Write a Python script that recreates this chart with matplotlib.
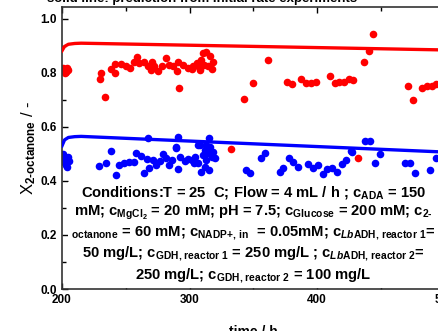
import matplotlib
matplotlib.use("Agg")
import matplotlib.pyplot as plt
import numpy as np

plt.rcParams.update({
    "font.family": "Liberation Sans",
    "font.weight": "bold",
    "mathtext.fontset": "custom",
    "mathtext.rm": "Liberation Sans:bold",
    "mathtext.bf": "Liberation Sans:bold",
    "mathtext.it": "Liberation Sans:bold:italic",
    "mathtext.default": "rm",
})

# measured conversion, reactor 1 (red) and reactor 2 (blue)
t_red = [200.5, 201.2, 202.0, 202.8, 203.5, 204.3, 205.0,
         229.7, 230.4, 233.9, 238.3, 241.7, 241.7, 246.2, 250.0, 253.5, 256.7,
         258.8, 260.6, 264.6, 267.2, 269.8, 270.3, 272.4, 275.0, 278.2, 281.6,
         284.3, 286.9, 290.3, 291.3, 291.6, 294.7, 298.7, 301.7, 303.0, 305.6,
         306.9, 308.2, 309.2, 310.5, 311.4, 312.6, 314.7, 316.3, 317.4, 318.3,
         332.8, 342.5, 349.9, 361.2, 376.1, 380.0, 387.4, 391.3, 395.0, 399.2,
         410.5, 413.8, 417.6, 421.3, 425.2, 428.6, 431.8, 436.5, 440.4, 443.9,
         471.4, 475.4, 482.4, 486.4, 490.3, 493.7]
x_red = [0.82, 0.81, 0.80, 0.815, 0.805, 0.82, 0.81,
         0.777, 0.80, 0.712, 0.814, 0.832, 0.80, 0.832, 0.826, 0.82, 0.842,
         0.86, 0.837, 0.839, 0.824, 0.811, 0.842, 0.824, 0.806, 0.824, 0.854,
         0.83, 0.824, 0.806, 0.842, 0.743, 0.83, 0.817, 0.814, 0.824, 0.837,
         0.826, 0.811, 0.846, 0.873, 0.83, 0.879, 0.824, 0.863, 0.814, 0.842,
         0.518, 0.705, 0.764, 0.848, 0.767, 0.759, 0.777, 0.763, 0.764, 0.767,
         0.789, 0.764, 0.767, 0.766, 0.777, 0.772, 0.484, 0.84, 0.88, 0.943,
         0.752, 0.70, 0.743, 0.75, 0.752, 0.758]

t_blue = [200.5, 201.2, 201.8, 202.5, 203.2, 204.0, 204.6, 205.3,
          229.1, 234.4, 238.3, 242.2, 244.9, 248.8, 252.8, 256.7, 258.0, 262.0,
          264.6, 266.7, 267.2, 268.5, 271.1, 273.8, 277.2, 279.0, 281.6, 284.3,
          286.1, 289.5, 289.5, 290.8, 291.3, 292.9, 296.1, 298.7, 301.7, 303.9,
          304.3, 306.5, 306.5, 308.2, 309.2, 310.8, 311.8, 311.8, 312.7, 312.7,
          314.7, 315.0, 315.2, 315.8, 317.4, 318.3, 320.0,
          344.6, 347.2, 355.7, 359.0, 370.9, 373.5, 378.2, 381.4, 385.3, 393.2,
          397.1, 401.0, 404.5, 408.1, 411.6, 415.5, 419.4, 422.8, 426.5, 427.3,
          437.8, 441.2, 445.7, 449.6, 469.3, 473.2, 477.2, 489.0, 493.7]
x_blue = [0.50, 0.49, 0.47, 0.48, 0.46, 0.45, 0.49, 0.475,
          0.456, 0.468, 0.512, 0.422, 0.459, 0.468, 0.472, 0.472, 0.503, 0.493,
          0.43, 0.48, 0.558, 0.447, 0.478, 0.459, 0.475, 0.50, 0.484, 0.459,
          0.478, 0.521, 0.524, 0.443, 0.562, 0.488, 0.475, 0.48, 0.478, 0.466,
          0.49, 0.465, 0.533, 0.533, 0.435, 0.496, 0.515, 0.453, 0.533, 0.478,
          0.503, 0.441, 0.558, 0.524, 0.49, 0.509, 0.484,
          0.44, 0.428, 0.484, 0.503, 0.435, 0.447, 0.484, 0.472, 0.453, 0.463,
          0.447, 0.459, 0.425, 0.443, 0.447, 0.435, 0.463, 0.478, 0.511, 0.509,
          0.548, 0.548, 0.468, 0.50, 0.468, 0.468, 0.428, 0.441, 0.484]

# prediction from initial rate experiments
t_model = [200, 202, 205, 210, 215, 500]
red_model = [0.882, 0.898, 0.906, 0.909, 0.91, 0.885]
blue_model = [0.53, 0.552, 0.561, 0.564, 0.565, 0.507]

conditions = (
    "Conditions:T = 25  C; Flow = 4 mL / h ; c$_{ADA}$ = 150\n"
    "mM; c$_{MgCl_2}$ = 20 mM; pH = 7.5; c$_{Glucose}$ = 200 mM; c$_{\\text{2-}}$\n"
    "$_{octanone}$ = 60 mM; c$_{\\text{NADP+, in}}$  = 0.05mM; c$_{\\mathit{Lb}\\text{ADH, reactor 1}}$=\n"
    "50 mg/L; c$_{\\text{GDH, reactor 1}}$ = 250 mg/L ; c$_{\\mathit{Lb}\\text{ADH, reactor 2}}$=\n"
    "250 mg/L; c$_{\\text{GDH, reactor 2}}$ = 100 mg/L"
)

W, H = 438, 331
fig = plt.figure(figsize=(W / 100, H / 100), dpi=100)
ax = fig.add_axes([62 / W, 42 / H, 382.5 / W, 282 / H])

ax.scatter(t_blue, x_blue, s=30, color="#0000ff", linewidths=0, zorder=2)
ax.scatter(t_red, x_red, s=30, color="#ff0000", linewidths=0, zorder=2)
ax.plot(t_model, red_model, color="#ff0000", lw=2.4, zorder=3)
ax.plot(t_model, blue_model, color="#0000ff", lw=2.4, zorder=3)

ax.text(350, 0.203, conditions, ha="center", va="center", fontsize=10.6,
        fontweight="bold", multialignment="center", linespacing=1.25,
        bbox=dict(facecolor="white", edgecolor="none", pad=2), zorder=5)

ax.set_xlim(200, 500)
ax.set_ylim(0, 1.044)
ax.set_xticks([200, 300, 400, 500])
ax.set_xticks([250, 350, 450], minor=True)
ax.set_yticks([0.0, 0.2, 0.4, 0.6, 0.8, 1.0])
ax.set_yticks([0.1, 0.3, 0.5, 0.7, 0.9], minor=True)
ax.set_yticklabels(["0.0", "0.2", "0.4", "0.6", "0.8", "1.0"])
ax.tick_params(which="both", direction="in", top=True, right=True,
               labelsize=8.5, width=1)
ax.tick_params(which="major", length=4)
ax.tick_params(which="minor", length=3)
for lab in ax.get_xticklabels() + ax.get_yticklabels():
    lab.set_fontweight("bold")
for sp in ax.spines.values():
    sp.set_linewidth(1.2)
    sp.set_color("#333333")

ax.set_xlabel("time / h", fontsize=10, fontweight="bold", labelpad=14)
ax.set_ylabel("X$_{\\text{2-octanone}}$ / -", fontsize=12, labelpad=2)

fig.text(0.462, 0.993, "solid line: prediction from initial rate experiments",
         ha="center", va="baseline", fontsize=9.5, fontweight="bold")

fig.savefig("out.png", dpi=100)
